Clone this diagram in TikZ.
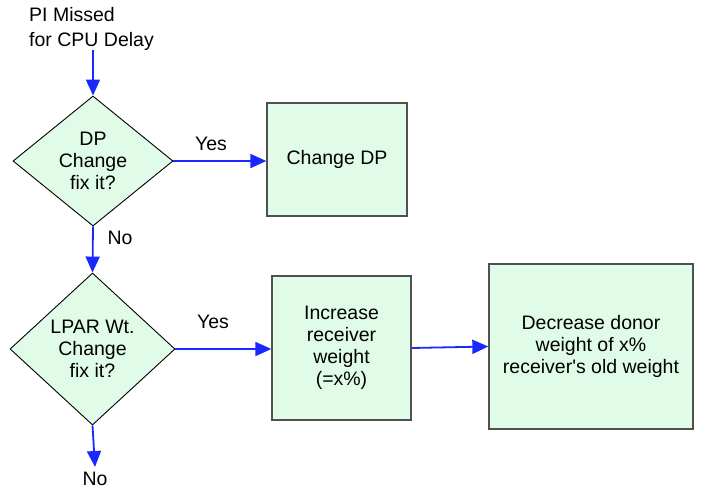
\documentclass[tikz,border=0pt]{standalone}
\usepackage{fontspec}
\setmainfont{Liberation Sans}
\usetikzlibrary{shapes.geometric,arrows.meta}
\definecolor{mint}{RGB}{224,252,232}
\definecolor{flowblue}{RGB}{26,40,255}
\definecolor{boxedge}{RGB}{80,80,80}
\begin{document}
\begin{tikzpicture}[x=1pt,y=-1pt,
  txt/.style={font=\fontsize{19.5}{22}\selectfont, align=center, inner sep=0pt},
  decision/.style={txt, diamond, draw=black, line width=0.9pt, fill=mint, aspect=1},
  action/.style={txt, rectangle, draw=boxedge, line width=1.3pt, fill=mint},
  flow/.style={draw=flowblue, line width=1.8pt, -{Triangle[length=16pt,width=14pt]}},
  lbl/.style={font=\fontsize{19.5}{22}\selectfont, inner sep=0pt, anchor=base}]
  \useasboundingbox (0,0) rectangle (710,488);

  % start label and its arrow
  \node[anchor=north west, align=left, inner sep=0pt,
        font=\fontsize{19.5}{25}\selectfont] (start) at (29,7) {PI Missed\\for CPU Delay};
  \coordinate (s0) at (93,50);

  % decisions
  \node[decision, minimum width=160pt, minimum height=130pt] (d1) at (93,161) {DP\\Change\\fix it?};
  \node[decision, minimum width=165pt, minimum height=152pt] (d2) at (92.5,349) {LPAR Wt.\\Change\\fix it?};

  % actions
  \node[action, minimum width=140pt, minimum height=113pt] (cdp) at (337,159.5) {Change DP};
  \node[action, minimum width=139pt, minimum height=144pt] (inc) at (341.5,348) {Increase\\receiver\\weight\\(=x\%)};
  \node[action, minimum width=204pt, minimum height=165pt] (dec) at (591,346.5) {Decrease donor\\weight of x\%\\receiver\textquotesingle s old weight};

  \coordinate (end) at (95,467);

  % connectors
  \draw[flow] (s0) -- (d1.north);
  \draw[flow] (d1.east) -- (d1.east -| cdp.west);
  \draw[flow] (d1.south) -- (d2.north);
  \draw[flow] (d2.east) -- (d2.east -| inc.west);
  \draw[flow] (inc.east) -- (dec.west);
  \draw[flow] (d2.south) -- (end);

  % branch labels
  \node[lbl] (y1) at (211,150) {Yes};
  \node[lbl] (n1) at (120,244) {No};
  \node[lbl] (y2) at (213,328) {Yes};
  \node[lbl] (n2) at (95,485) {No};
\end{tikzpicture}
\end{document}
